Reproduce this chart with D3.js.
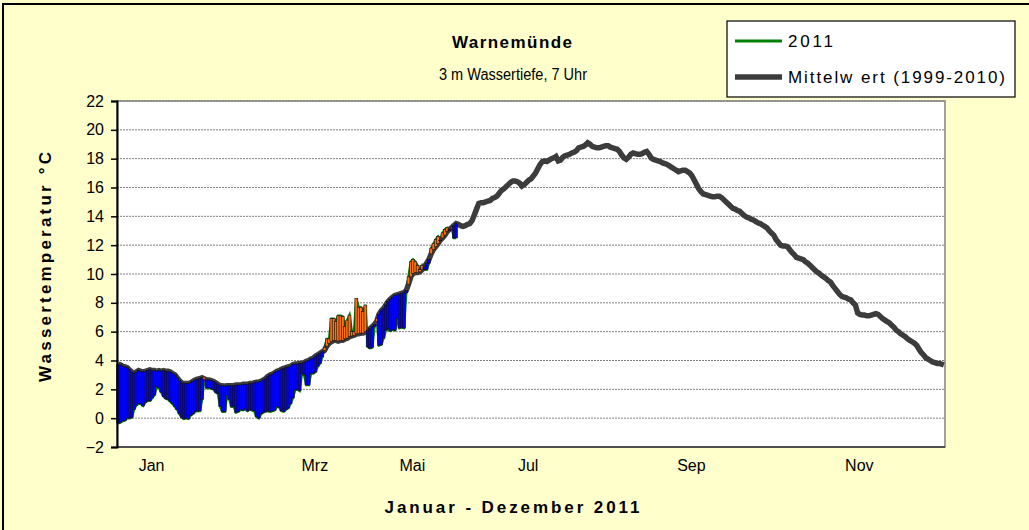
<!DOCTYPE html>
<html><head><meta charset="utf-8">
<script src="https://cdn.jsdelivr.net/npm/d3@7"></script>
<style>body{margin:0;background:#FFFFCC}svg{display:block}text{font-family:"Liberation Sans",Arial,sans-serif}</style>
</head><body><svg id="c" width="1029" height="530"></svg>
<script>
// Mittelwert (1999-2010), daily, day 0 = 1 Jan
const meanValues = [
3.75,3.7,3.6,3.55,3.5,3.35,3.2,3.1,3.2,3.3,
3.25,3.2,3.25,3.3,3.35,3.3,3.3,3.25,3.3,3.25,
3.3,3.25,3.25,3.2,3.1,3.0,2.8,2.6,2.45,2.4,
2.4,2.4,2.45,2.55,2.65,2.7,2.75,2.8,2.7,2.65,
2.65,2.6,2.55,2.45,2.35,2.25,2.25,2.2,2.25,2.25,
2.25,2.25,2.3,2.3,2.3,2.35,2.35,2.35,2.4,2.4,
2.45,2.5,2.5,2.55,2.65,2.75,2.9,3.0,3.05,3.15,
3.25,3.3,3.4,3.45,3.5,3.55,3.6,3.7,3.75,3.75,
3.8,3.8,3.85,3.95,4.0,4.1,4.15,4.3,4.4,4.5,
4.6,4.7,5.0,5.2,5.3,5.4,5.4,5.35,5.4,5.4,
5.5,5.55,5.65,5.7,5.75,5.85,5.85,5.9,5.9,6.0,
6.1,6.2,6.35,6.5,6.7,7.2,7.45,7.6,7.85,8.1,
8.25,8.4,8.5,8.55,8.6,8.65,8.7,8.85,9.3,9.8,
10.05,10.1,10.1,10.15,10.3,10.5,10.75,11.0,11.4,11.7,
11.9,12.1,12.35,12.5,12.7,12.95,13.1,13.2,13.35,13.5,
13.45,13.35,13.3,13.35,13.45,13.5,13.7,14.1,14.5,14.9,
14.95,14.95,15.0,15.05,15.1,15.25,15.3,15.4,15.6,15.8,
15.9,16.05,16.2,16.35,16.45,16.45,16.4,16.3,16.1,16.2,
16.35,16.5,16.6,16.8,17.0,17.3,17.6,17.8,17.85,17.8,
17.9,18.0,18.05,18.15,17.85,17.9,18.1,18.2,18.25,18.3,
18.4,18.45,18.55,18.75,18.8,18.85,18.95,19.1,19.0,18.85,
18.8,18.75,18.75,18.8,18.85,18.9,18.9,18.8,18.75,18.7,
18.65,18.5,18.25,18.05,17.95,18.1,18.3,18.4,18.35,18.3,
18.3,18.35,18.45,18.5,18.3,18.05,17.95,17.9,17.85,17.8,
17.7,17.65,17.6,17.5,17.4,17.3,17.2,17.1,17.15,17.2,
17.2,17.1,17.0,16.8,16.5,16.2,15.9,15.7,15.55,15.5,
15.45,15.4,15.35,15.35,15.4,15.4,15.3,15.15,15.0,14.85,
14.7,14.55,14.5,14.4,14.35,14.2,14.05,13.95,13.9,13.8,
13.75,13.65,13.55,13.5,13.4,13.3,13.2,13.0,12.85,12.7,
12.4,12.2,12.0,11.95,11.95,11.9,11.7,11.5,11.35,11.15,
11.1,11.05,11.0,10.85,10.75,10.6,10.45,10.3,10.15,10.05,
9.9,9.8,9.7,9.55,9.45,9.2,9.0,8.8,8.6,8.45,
8.4,8.35,8.25,8.2,8.0,7.85,7.3,7.2,7.15,7.15,
7.1,7.1,7.15,7.2,7.25,7.2,7.05,6.9,6.8,6.7,
6.6,6.45,6.3,6.1,6.0,5.85,5.75,5.65,5.5,5.4,
5.3,5.2,5.05,4.8,4.55,4.4,4.2,4.1,4.0,3.9,
3.85,3.8,3.8,3.75,3.7
];
// 2011, daily from 1 Jan
const values2011 = [
-0.35,-0.3,-0.2,-0.15,0.0,0.0,0.05,0.6,0.9,1.0,
1.0,0.85,1.1,1.2,1.2,1.4,1.6,2.2,2.1,1.8,
1.5,1.35,1.3,1.15,1.0,0.8,0.6,0.3,0.05,-0.05,
0.0,-0.05,0.2,0.3,0.45,0.5,0.5,1.3,2.85,2.1,
2.1,2.05,2.0,1.8,1.7,0.8,0.45,0.45,1.6,1.3,
0.8,0.8,0.4,0.45,0.6,0.55,0.65,0.5,0.6,0.55,
0.5,0.1,0.0,0.3,0.4,0.45,0.5,0.45,0.5,0.55,
0.8,0.75,0.5,0.45,0.6,0.7,1.0,1.4,1.95,2.0,
1.9,3.1,3.0,2.3,2.3,3.1,3.1,3.2,3.6,3.8,
4.25,4.9,5.5,5.5,6.9,6.9,6.7,7.1,7.1,7.05,
6.35,6.8,7.15,6.0,6.0,8.3,7.7,7.7,7.4,7.85,
4.95,4.85,4.9,6.35,6.9,5.05,5.1,5.55,6.1,6.2,
6.05,6.15,6.1,6.9,6.25,6.3,6.25,8.7,9.8,10.85,
11.0,10.85,10.6,10.3,10.6,10.3,10.3,10.75,11.8,12.1,
12.4,12.6,12.3,12.85,13.1,13.2,13.0,13.3,12.5,12.5
];
const yTicks = [-2,0,2,4,6,8,10,12,14,16,18,20,22];
const monthLabels = ["Jan","Mrz","Mai","Jul","Sep","Nov"];
const monthLabelDays = [15,87,130,181,253,327];
const seriesNames = ["2011","Mittelw ert (1999-2010)"];

const svg = d3.select("#c");
const W = 1029, H = 530;
const m = {left:117, right:945, top:101, bottom:447};
svg.append("rect").attr("width",W).attr("height",H).attr("fill","#FFFFCC");
svg.append("rect").attr("x",3).attr("y",4).attr("width",W+10).attr("height",H+10)
  .attr("fill","none").attr("stroke","#000").attr("stroke-width",2);

const x = d3.scaleLinear().domain([0,365]).range([m.left,m.right]);
const y = d3.scaleLinear().domain([-2,22]).range([m.bottom,m.top]);
const bw = x(1)-x(0);

svg.append("rect").attr("x",m.left).attr("y",m.top).attr("width",m.right-m.left).attr("height",m.bottom-m.top)
  .attr("fill","#fff").attr("stroke","#808080").attr("stroke-width",1.5);

svg.append("g").selectAll("line").data(yTicks.filter(v=>v>-2)).join("line")
  .attr("x1",m.left).attr("x2",m.right).attr("y1",d=>y(d)).attr("y2",d=>y(d))
  .attr("stroke","#808080").attr("stroke-width",1).attr("stroke-dasharray","2,1");

// 2011 line (under bars)
const line2011 = d3.line().x((d,i)=>x(i+0.5)).y(d=>y(d));
svg.append("path").datum(values2011).attr("d",line2011).attr("fill","none")
  .attr("stroke","#008000").attr("stroke-width",2.5);
// mean line
const lineMean = d3.line().x((d,i)=>x(i+0.5)).y(d=>y(d));
svg.append("path").datum(meanValues).attr("d",lineMean).attr("fill","none")
  .attr("stroke","#3c3c3c").attr("stroke-width",5.5).attr("stroke-linejoin","miter");

// up/down bars
const bars = values2011.map((v,i)=>({i, v, mv: meanValues[i]}));
svg.append("g").selectAll("rect").data(bars).join("rect")
  .attr("x",d=>x(d.i)-0.3).attr("width",bw+0.6)
  .attr("y",d=>y(Math.max(d.v,d.mv))).attr("height",d=>Math.abs(y(d.v)-y(d.mv)))
  .attr("fill",d=>d.v>=d.mv?"#FF7010":"#0000FF")
  .attr("stroke","#111").attr("stroke-width",0.6);

// axes
const yAxis = d3.axisLeft(y).tickValues(yTicks).tickSize(6).tickPadding(7).tickFormat(d3.format("d"));
const gy = svg.append("g").attr("transform",`translate(${m.left},0)`).call(yAxis);
gy.select(".domain").attr("stroke","#000").attr("stroke-width",2);
gy.selectAll(".tick line").attr("stroke","#000").attr("stroke-width",1.5);
gy.selectAll("text").attr("font-size",16).attr("fill","#000").style("font-family","'Liberation Sans',Arial,sans-serif");

svg.append("line").attr("x1",m.left).attr("x2",m.right).attr("y1",m.bottom).attr("y2",m.bottom)
  .attr("stroke","#000").attr("stroke-width",1);

const xAxis = d3.axisBottom(x).tickValues(monthLabelDays).tickSize(0).tickPadding(13)
  .tickFormat((d,i)=>monthLabels[i]);
const gx = svg.append("g").attr("transform",`translate(0,${m.bottom})`).call(xAxis);
gx.select(".domain").remove();
gx.selectAll("text").attr("font-size",16).attr("fill","#000").style("font-family","'Liberation Sans',Arial,sans-serif");

// titles
svg.append("text").attr("x",512).attr("y",48).attr("text-anchor","middle")
  .attr("font-size",17).attr("font-weight","bold").attr("textLength",120).attr("lengthAdjust","spacing").text("Warnemünde");
svg.append("text").attr("x",513).attr("y",80).attr("text-anchor","middle")
  .attr("font-size",16).attr("textLength",148).attr("lengthAdjust","spacingAndGlyphs").text("3 m Wassertiefe, 7 Uhr");
svg.append("text").attr("transform","translate(51,267) rotate(-90)").attr("text-anchor","middle")
  .attr("font-size",17).attr("font-weight","bold").attr("textLength",230).attr("lengthAdjust","spacing").text("Wassertemperatur °C");
svg.append("text").attr("x",512).attr("y",513).attr("text-anchor","middle")
  .attr("font-size",17).attr("font-weight","bold").attr("textLength",255).attr("lengthAdjust","spacing").text("Januar - Dezember 2011");

// legend
const lg = svg.append("g");
lg.append("rect").attr("x",727).attr("y",21).attr("width",288).attr("height",76)
  .attr("fill","#fff").attr("stroke","#000").attr("stroke-width",1.2);
const legendColors = ["#008000","#3c3c3c"], legendW = [3,5.5], legendY = [41,77], legendLen = [45,217];
seriesNames.forEach((n,i)=>{
  lg.append("line").attr("x1",735).attr("x2",782).attr("y1",legendY[i]).attr("y2",legendY[i])
    .attr("stroke",legendColors[i]).attr("stroke-width",legendW[i]);
  lg.append("text").attr("x",788).attr("y",legendY[i]+6).attr("font-size",17)
    .attr("textLength",legendLen[i]).attr("lengthAdjust","spacing").text(n);
});
</script></body></html>
